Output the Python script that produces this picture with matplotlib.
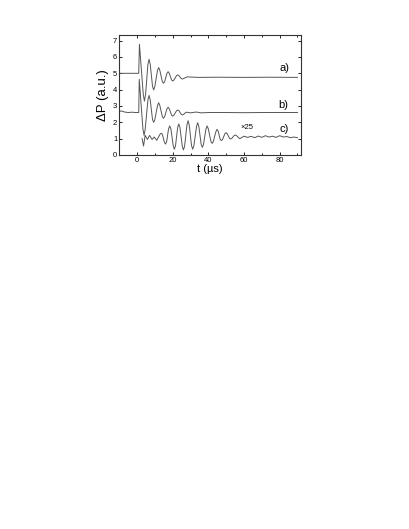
import numpy as np
import matplotlib
matplotlib.use("Agg")
import matplotlib.pyplot as plt
from matplotlib.ticker import MultipleLocator

plt.rcParams['font.family'] = ['Liberation Sans', 'DejaVu Sans']

# trace a) (t in us, dP in a.u.)
t_a = [-10, 0.9, 1.3, 3.45, 4.1, 4.75, 6.05, 6.7, 7.35, 8.65, 9.3, 9.95,
       11.45, 12.1, 12.75, 14.15, 14.8, 15.45, 16.75, 17.4, 18.05, 19.35,
       20.0, 20.65, 22.15, 22.8, 23.45, 24.75, 25.4, 26.1, 28, 35, 45, 60, 75, 90]
p_a = [5.0, 5.0, 6.78, 3.71, 3.3, 3.71, 5.55, 5.86, 5.55, 4.20, 3.98, 4.20,
       5.18, 5.35, 5.18, 4.49, 4.39, 4.49, 5.0, 5.1, 5.0, 4.59,
       4.53, 4.59, 4.86, 4.9, 4.86, 4.68, 4.65, 4.68, 4.78, 4.75, 4.76, 4.75, 4.76, 4.75]

# trace b)
t_b = [-10, -9, -7, -5, -3, -1, 0.9, 1.2, 3.25, 3.9, 4.55, 6.05, 6.7, 7.35,
       8.65, 9.3, 9.95, 11.45, 12.1, 12.75, 14.15, 14.8, 15.45, 16.75, 17.4,
       18.05, 19.35, 20.0, 20.65, 22.15, 22.8, 23.45, 24.75, 25.4, 26.1,
       27.5, 30, 33, 36, 40, 50, 60, 70, 80, 90]
p_b = [2.65, 2.7, 2.63, 2.6, 2.62, 2.6, 2.6, 4.63, 1.59, 1.2, 1.59, 3.36, 3.65, 3.36,
       2.17, 2.0, 2.17, 3.03, 3.2, 3.03, 2.35, 2.25, 2.35, 2.83, 2.92,
       2.83, 2.44, 2.38, 2.44, 2.71, 2.75, 2.71, 2.49, 2.45, 2.49,
       2.62, 2.58, 2.63, 2.58, 2.6, 2.6, 2.59, 2.6, 2.6, 2.6]

# trace c) (x25)
t_c = [2.8, 3.6, 4.5, 5.8, 7.0, 8.4, 9.6, 11.0,
       12.85, 13.5, 14.15, 15.25, 15.9, 16.55, 17.65, 18.3, 18.95,
       20.25, 20.9, 21.55, 22.75, 23.4, 24.05, 25.35, 26.0, 26.65,
       27.95, 28.6, 29.25, 30.55, 31.2, 31.85, 33.35, 34.0, 34.65,
       35.95, 36.6, 37.25, 38.65, 39.3, 39.95, 41.45, 42.1, 42.75,
       44.25, 44.9, 45.55, 46.65, 47.3, 47.95, 49.25, 49.9, 50.55,
       51.85, 52.5, 53.15, 54.45, 55.1, 55.75, 57.6,
       60, 62, 64, 66, 68, 70, 72, 74, 76, 78, 80, 82, 84, 86, 88, 90]
p_c = [1.0, 0.55, 1.2, 0.95, 1.2, 0.95, 1.1, 0.9,
       1.27, 1.33, 1.27, 0.80, 0.67, 0.80, 1.60, 1.78, 1.60,
       0.57, 0.35, 0.57, 1.68, 1.9, 1.68, 0.54, 0.31, 0.54,
       1.83, 2.1, 1.83, 0.57, 0.35, 0.57, 1.74, 1.98, 1.74,
       0.65, 0.47, 0.65, 1.60, 1.78, 1.60, 0.82, 0.71, 0.82,
       1.44, 1.57, 1.44, 0.95, 0.88, 0.95, 1.30, 1.37, 1.30,
       1.02, 0.98, 1.02, 1.19, 1.22, 1.19, 1.0,
       1.15, 1.08, 1.14, 1.06, 1.16, 1.08, 1.18, 1.1, 1.15, 1.08, 1.18,
       1.1, 1.13, 1.06, 1.1, 1.06]

fig = plt.figure(figsize=(4.09, 5.29), dpi=100)
ax = fig.add_axes([0.2917, 0.707, 0.4443, 0.227])

for t, p in [(t_a, p_a), (t_b, p_b), (t_c, p_c)]:
    ax.plot(t, p, color='#555555', lw=0.7)

ax.text(82.6, 5.35, 'a)', fontsize=8, ha='center', va='center')
ax.text(82.3, 3.06, 'b)', fontsize=8, ha='center', va='center')
ax.text(82.3, 1.6, 'c)', fontsize=8, ha='center', va='center')
ax.text(61.7, 1.67, '\u00d725', fontsize=5.5, ha='center', va='center')

ax.set_xlim(-10, 92)
ax.set_ylim(0, 7.35)
ax.xaxis.set_major_locator(MultipleLocator(20))
ax.xaxis.set_minor_locator(MultipleLocator(10))
ax.yaxis.set_major_locator(MultipleLocator(1))
ax.tick_params(which='both', direction='in', top=True, right=True,
               labelsize=5.5, width=0.6, pad=1.5)
ax.tick_params(which='major', length=2.5)
ax.tick_params(which='minor', length=1.5)
for s in ax.spines.values():
    s.set_linewidth(0.8)
    s.set_color('#333333')

ax.set_xlabel('t (\u00b5s)', fontsize=8, labelpad=0)
ax.set_ylabel('\u0394P (a.u.)', fontsize=9.5, labelpad=3)

fig.savefig('out.png', dpi=100)
